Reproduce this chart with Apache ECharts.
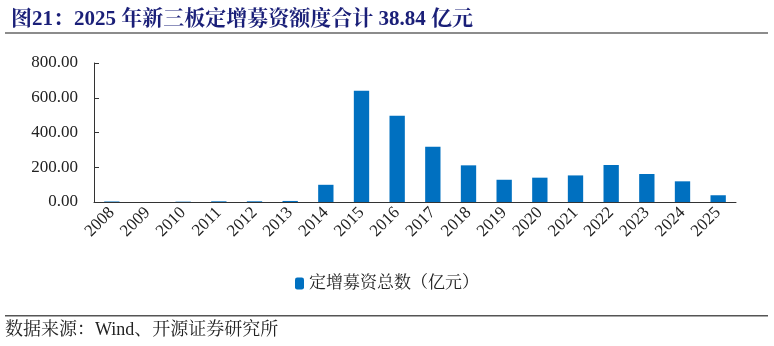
<!DOCTYPE html>
<html><head><meta charset="utf-8">
<script src="https://cdn.jsdelivr.net/npm/echarts@6/dist/echarts.min.js"></script>
<style>html,body{margin:0;padding:0;background:#fff;}#c{width:774px;height:346px;}</style>
</head><body><div id="c"></div>
<script>
var years = ['2008','2009','2010','2011','2012','2013','2014','2015','2016','2017','2018','2019','2020','2021','2022','2023','2024','2025'];
var amounts = [3, 0, 2, 4, 4, 6, 99, 640, 496, 318, 211, 128, 140, 153, 213, 161, 119, 38.84];
var seriesName = '定增募资总数（亿元）';
var titleText = '图21：2025 年新三板定增募资额度合计 38.84 亿元';
var sourceText = '数据来源：Wind、开源证券研究所';

var chart = echarts.init(document.getElementById('c'));
var serif = '"Liberation Serif","Noto Serif CJK SC","Noto Sans CJK SC",serif';
chart.setOption({
  animation: false,
  backgroundColor: '#fff',
  title: {
    text: titleText, left: 6, top: 4,
    textStyle: { fontFamily: serif, fontSize: 21, fontWeight: 'bold', color: '#1a1f78' }
  },
  graphic: [
    { type: 'rect', shape: { x: 5, y: 32, width: 763, height: 2 }, style: { fill: '#8c8c8c' } },
    { type: 'rect', shape: { x: 5, y: 315, width: 763, height: 1.5 }, style: { fill: '#555' } },
    { type: 'text', left: 5, top: 321, style: { text: sourceText, font: '18px ' + serif, fill: '#222' } }
  ],
  legend: {
    data: [seriesName], left: 'center', top: 270,
    itemWidth: 9, itemHeight: 12, itemGap: 4,
    textStyle: { fontFamily: serif, fontSize: 17, color: '#222' }
  },
  grid: { left: 94, right: 38, top: 63, bottom: 144, containLabel: false },
  xAxis: {
    type: 'category', data: years,
    axisLine: { lineStyle: { color: '#333', width: 1 } },
    axisTick: { inside: true, length: 5, lineStyle: { color: '#333' } },
    axisLabel: { rotate: 45, margin: 8, fontFamily: serif, fontSize: 17, color: '#222' }
  },
  yAxis: {
    type: 'value', min: 0, max: 800, interval: 200,
    splitLine: { show: false },
    axisLine: { show: true, lineStyle: { color: '#333', width: 1 } },
    axisTick: { show: true, inside: true, length: 5, lineStyle: { color: '#333' } },
    axisLabel: { margin: 16, fontFamily: serif, fontSize: 17, color: '#222',
      formatter: function (v) { return v.toFixed(2); } }
  },
  series: [{
    name: seriesName, type: 'bar', data: amounts, barWidth: '43%',
    itemStyle: { color: '#0070c0' }
  }]
});
</script></body></html>
